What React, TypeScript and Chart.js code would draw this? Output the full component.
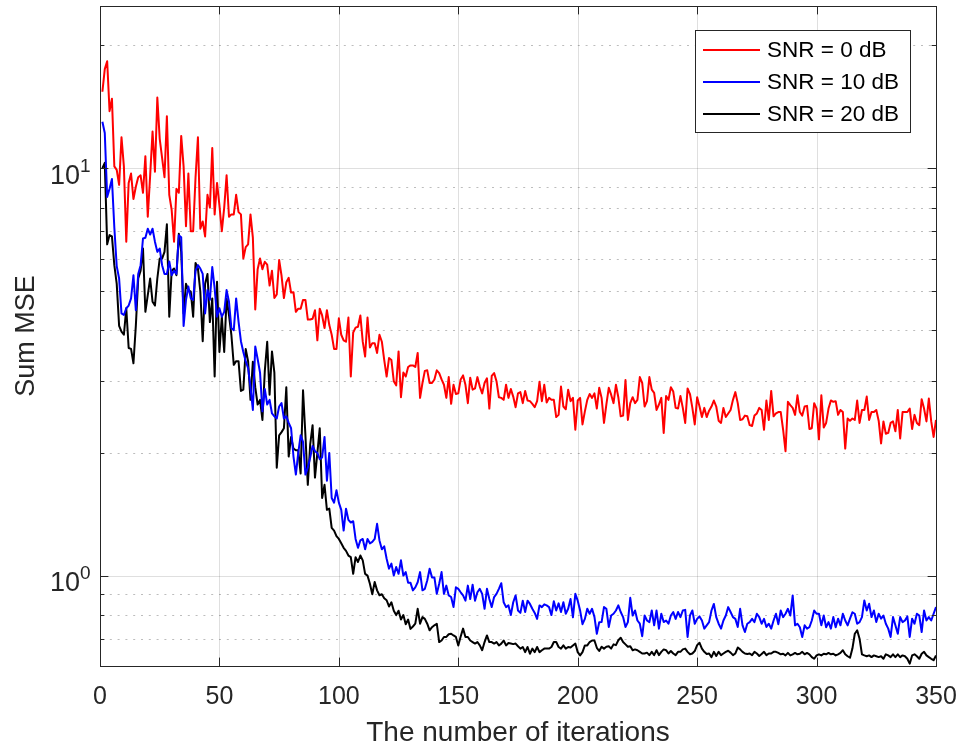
import React, { useEffect, useRef } from 'react';
import { Chart, registerables } from 'chart.js';

Chart.register(...registerables);

// ---------------- data ----------------
const ITER_START = 1;

const SNR0 = [
  15.4, 17.5, 18.3, 13.8, 14.8, 10.1, 9.9, 9.1, 11.9, 10.1,
  6.6, 9.2, 9.7, 8.4, 9.0, 9.5, 9.6, 8.7, 10.7, 7.6,
  9.6, 12.3, 9.8, 14.9, 11.8, 10.6, 9.5, 13.4, 8.6, 7.9,
  6.6, 8.9, 8.7, 12.0, 10.1, 7.2, 9.7, 7.0, 7.0, 9.5,
  11.9, 7.1, 7.4, 6.8, 8.6, 8.0, 11.2, 7.7, 9.2, 8.1,
  7.0, 8.0, 9.6, 7.6, 7.7, 7.7, 8.6, 7.8, 7.7, 6.0,
  6.4, 6.5, 7.7,
  6.75, 4.5, 5.65, 6.0, 5.65, 5.89, 5.8,
  5.15, 5.6, 4.8, 4.9, 5.95, 5.45, 4.8, 5.25, 5.38, 4.95,
  4.96, 4.44, 4.52, 4.52, 4.75, 4.75, 4.25, 4.25, 4.27, 4.48,
  3.78, 4.52, 4.35, 4.05, 4.48, 4.12, 3.9, 3.6, 3.6, 4.28,
  3.9, 3.78, 3.75, 4.3, 3.08, 3.95, 4.06, 4.08, 4.35, 3.75,
  3.45, 4.3, 3.63, 3.72, 3.72, 3.52, 3.9, 3.75, 3.38, 3.08,
  3.42, 3.38, 3.0, 2.93, 3.55, 2.74, 3.15, 3.08, 3.25, 3.28, 3.28,
  3.25, 3.52, 2.73, 2.97, 3.18, 3.19, 2.97, 2.97, 3.03,
  3.19, 3.14, 3.03, 2.94, 2.73, 3.07, 2.64, 2.94, 2.79, 2.8,
  3.03, 3.1, 2.94, 2.65, 3.06, 2.86, 2.88, 3.07, 2.91, 2.8,
  2.97, 3.05, 2.57, 3.09, 3.14, 3.0, 2.74, 2.73, 2.7, 2.94,
  2.73, 2.87, 2.75, 2.59, 2.8, 2.82, 2.65, 2.84, 2.69, 2.68,
  2.64, 2.59, 2.68, 2.99, 2.68, 2.94, 2.66, 2.73, 2.7, 2.7,
  2.45, 2.48, 2.91, 2.6, 2.56, 2.86, 2.68, 2.73, 2.28, 2.69,
  2.73, 2.35, 2.53, 2.7, 2.79, 2.73, 2.8,
  2.57, 2.89, 2.73,
  2.37, 2.63, 2.89, 2.78, 2.65, 2.94, 2.74, 2.46, 2.47, 3.02,
  2.41, 2.65, 2.74, 2.65, 2.7, 3.07, 2.97, 2.6, 2.68, 3.07,
  2.86, 2.81, 2.55, 2.63, 2.73, 2.24, 2.76, 2.7, 2.9, 2.83,
  2.58, 2.57, 2.76, 2.58, 2.37, 2.88, 2.79, 2.58, 2.35, 2.74,
  2.6, 2.45, 2.58, 2.45, 2.54, 2.6, 2.69, 2.6,
  2.4, 2.37, 2.58, 2.45, 2.5, 2.55, 2.7, 2.82, 2.65, 2.41, 2.42, 2.47,
  2.46, 2.34, 2.33, 2.47, 2.5, 2.58, 2.55, 2.28, 2.69, 2.41,
  2.84, 2.46, 2.5,
  2.52, 2.52, 2.28, 2.02, 2.67, 2.62, 2.58,
  2.48, 2.77, 2.52, 2.47, 2.6, 2.61, 2.29, 2.3, 2.65, 2.57,
  2.16, 2.77, 2.31, 2.37, 2.57, 2.69, 2.67, 2.68, 2.48, 2.55,
  2.52, 2.05, 2.43, 2.4, 2.43, 2.41, 2.69, 2.37, 2.55, 2.55,
  2.75, 2.41, 2.52, 2.52, 2.55, 2.4, 2.11, 2.39, 2.23, 2.24,
  2.37, 2.39, 2.26, 2.55, 2.17, 2.52, 2.52, 2.52, 2.57, 2.29,
  2.48, 2.37, 2.34, 2.71, 2.57, 2.39, 2.72, 2.39, 2.19, 2.41,
];

const SNR10 = [
  13.0, 12.2, 8.5, 8.9, 9.4, 7.15, 5.75, 5.36, 4.4, 4.36,
  4.53, 4.6, 4.79, 5.46, 4.48, 5.5, 5.78, 6.72, 6.75, 7.1,
  6.87, 7.1, 6.6, 6.23, 6.35, 5.78, 5.5, 5.5, 5.9, 5.46,
  5.6, 5.5, 6.84, 6.77, 4.1, 4.75, 5.12, 4.79, 4.75, 5.6,
  5.78, 5.67, 5.5, 4.4, 5.02, 4.75, 5.72, 5.07, 4.32, 4.53,
  4.32, 4.44, 5.02, 4.7, 4.05, 4.0, 4.79, 4.2, 3.76, 3.54,
  3.36, 3.23, 2.9, 2.55,
  3.65, 3.4, 3.15, 2.53, 2.87, 2.63,
  2.7, 2.5, 2.46, 2.43, 2.6, 2.65, 2.43, 2.46, 2.37, 2.3,
  1.96, 1.77, 2.0, 2.21, 2.13, 1.77, 1.84, 1.95, 2.08, 2.02,
  2.0, 1.93, 1.95, 2.19, 1.71, 2.0, 1.55, 1.51, 1.62, 1.51,
  1.45, 1.29, 1.46, 1.37, 1.35, 1.36, 1.23, 1.17, 1.22, 1.23,
  1.16, 1.23, 1.2, 1.21, 1.23, 1.34, 1.22, 1.16, 1.18, 1.1,
  1.04, 1.07, 1.0, 1.05, 1.01, 1.09, 1.0, 1.02, 0.96, 0.96, 0.92,
  0.936, 0.963, 1.02, 0.92, 0.928, 0.973, 1.04, 0.99, 0.99,
  0.902, 0.955, 1.02, 0.902, 0.945, 0.894, 0.886, 0.837, 0.936, 0.928,
  0.91, 0.894, 0.868, 0.945, 0.876, 0.95, 0.868, 0.91, 0.928, 0.902,
  0.829, 0.928, 0.876, 0.837, 0.886, 0.902, 0.928, 0.958, 0.86, 0.837,
  0.845, 0.8, 0.86, 0.894, 0.821, 0.81, 0.868, 0.814, 0.868, 0.852,
  0.829, 0.81, 0.783, 0.845, 0.837, 0.85, 0.845, 0.837, 0.8, 0.865,
  0.821, 0.855, 0.814, 0.86, 0.806, 0.829, 0.876, 0.79, 0.902, 0.868,
  0.821, 0.76, 0.783, 0.829, 0.806, 0.829, 0.792, 0.72, 0.768,
  0.769, 0.837, 0.829, 0.748, 0.798, 0.806, 0.821, 0.845, 0.814, 0.791, 0.748,
  0.769, 0.882, 0.798, 0.821, 0.776, 0.762, 0.71, 0.798, 0.776, 0.769,
  0.821, 0.755, 0.821, 0.741, 0.806, 0.769, 0.776, 0.762, 0.798, 0.814,
  0.783, 0.814, 0.791, 0.821, 0.824, 0.707, 0.798, 0.821, 0.762, 0.783,
  0.794, 0.776, 0.741, 0.755, 0.769, 0.821, 0.852, 0.791, 0.762, 0.741,
  0.776, 0.798, 0.837, 0.814, 0.791, 0.783, 0.748, 0.829, 0.755, 0.727,
  0.762, 0.769, 0.783, 0.769, 0.806, 0.791, 0.762, 0.783, 0.748, 0.762,
  0.741, 0.776, 0.806, 0.76, 0.821, 0.791, 0.806, 0.829, 0.798, 0.894,
  0.755, 0.762, 0.747, 0.707, 0.755, 0.741, 0.747, 0.776, 0.821, 0.806,
  0.806, 0.755, 0.798, 0.747, 0.769, 0.741, 0.791, 0.747, 0.784, 0.755,
  0.806, 0.776, 0.755, 0.784, 0.813, 0.806, 0.762, 0.769, 0.791, 0.869,
  0.821, 0.853, 0.791, 0.821, 0.769, 0.806, 0.784, 0.798, 0.762, 0.741,
  0.707, 0.791, 0.755, 0.72, 0.791, 0.769, 0.776, 0.794, 0.707, 0.784,
  0.762, 0.806, 0.798, 0.727, 0.821, 0.776, 0.791, 0.776, 0.806, 0.837,
];

const SNR20 = [
  10.0, 10.3, 6.5, 6.85, 6.8, 5.78, 5.2, 4.1, 3.97, 3.9,
  4.53, 3.62, 3.6, 3.32, 4.1, 5.36, 5.6, 6.35, 4.44, 4.88,
  5.36, 4.7, 4.6, 5.36, 6.0, 6.0, 6.23, 7.28, 4.32, 5.6,
  5.67, 5.46, 6.9, 6.23, 4.4, 5.2, 5.02, 4.98, 4.32, 5.85,
  5.67, 4.98, 3.76, 5.2, 5.5, 4.19, 4.79, 3.08, 5.26, 3.54,
  4.32, 3.54, 4.79, 4.36, 3.9, 3.29, 3.36, 3.36, 2.84, 2.86,
  3.6, 3.36,
  2.7, 3.35, 2.9, 2.63, 2.7, 2.41, 3.18, 3.75,
  2.78, 3.55, 3.15, 1.84, 2.21, 2.25, 2.3, 2.9, 1.96, 2.19,
  2.05, 2.03, 2.03, 1.78, 2.85, 2.21, 1.67, 2.1, 2.34, 1.74,
  2.0, 2.3, 1.55, 1.67, 1.45, 1.46, 1.31, 1.29, 1.25, 1.23,
  1.2, 1.17, 1.15, 1.12, 1.11, 1.01, 1.11, 1.08, 1.12, 1.09,
  1.01, 1.0, 0.955, 0.9, 0.965, 0.92, 0.895, 0.9, 0.88, 0.87,
  0.84, 0.86, 0.82, 0.8, 0.82, 0.78, 0.8, 0.76, 0.78, 0.74, 0.75,
  0.762, 0.829, 0.762, 0.791, 0.783, 0.762, 0.734, 0.747, 0.755,
  0.762, 0.687, 0.693, 0.707, 0.707, 0.718, 0.72, 0.713, 0.707, 0.674,
  0.709, 0.741, 0.707, 0.707, 0.693, 0.687, 0.681, 0.687, 0.674, 0.656,
  0.687, 0.713, 0.687, 0.687, 0.681, 0.687, 0.674, 0.681, 0.693, 0.674,
  0.683, 0.681, 0.679, 0.681, 0.671, 0.662, 0.668, 0.649, 0.668, 0.643,
  0.662, 0.649, 0.668, 0.649, 0.656, 0.662, 0.662, 0.662, 0.668, 0.687,
  0.687, 0.668, 0.662, 0.674, 0.662, 0.668, 0.666, 0.674, 0.681, 0.649,
  0.637, 0.649, 0.674, 0.674, 0.687, 0.693, 0.693,
  0.665, 0.653, 0.669,
  0.662, 0.669, 0.671, 0.662, 0.678, 0.675, 0.694, 0.704, 0.687, 0.678,
  0.669, 0.671, 0.656, 0.659, 0.656, 0.65, 0.644, 0.644, 0.647, 0.638,
  0.65, 0.638, 0.656, 0.638, 0.65, 0.659, 0.656, 0.644, 0.653, 0.644,
  0.638, 0.65, 0.65, 0.659, 0.662, 0.65, 0.641, 0.644, 0.653, 0.675,
  0.684, 0.662, 0.65, 0.642, 0.644, 0.631, 0.65, 0.635, 0.65, 0.638,
  0.644, 0.65, 0.654, 0.647, 0.638, 0.644, 0.666, 0.659, 0.65, 0.644,
  0.642, 0.644, 0.638, 0.65, 0.644, 0.635, 0.642, 0.65, 0.638, 0.644,
  0.644, 0.65, 0.65,
  0.646, 0.641, 0.643, 0.637, 0.646, 0.637, 0.641,
  0.646, 0.641, 0.643, 0.65, 0.641, 0.646, 0.641, 0.631, 0.625, 0.637,
  0.641, 0.637, 0.643, 0.641, 0.646, 0.641, 0.643, 0.637, 0.641, 0.646,
  0.656, 0.641, 0.634, 0.629, 0.662, 0.72, 0.734, 0.7, 0.641, 0.637,
  0.634, 0.637, 0.631, 0.637, 0.634, 0.631, 0.634, 0.625, 0.641, 0.637,
  0.631, 0.641, 0.631, 0.641, 0.631, 0.637, 0.634, 0.625, 0.608, 0.637,
  0.641, 0.634, 0.625, 0.643, 0.65, 0.637, 0.631, 0.625, 0.62, 0.637,
];

const SERIES_LABELS = ['SNR = 0 dB', 'SNR = 10 dB', 'SNR = 20 dB'];
const SERIES_COLORS = ['#ff0000', '#0000ff', '#000000'];
const X_TICKS = [0, 50, 100, 150, 200, 250, 300, 350];
const Y_MAJOR = [1, 10];
const Y_MINOR = [0.7, 0.8, 0.9, 2, 3, 4, 5, 6, 7, 8, 9, 20];
const X_RANGE = [0, 350];
const Y_RANGE = [0.61, 25];
const X_TITLE = 'The number of iterations';
const Y_TITLE = 'Sum MSE';

// ---------------- styling ----------------
const FONT = '"Liberation Sans", Arial, Helvetica, sans-serif';
const AXIS_COLOR = '#262626';

const toPoints = (arr: number[]) => arr.map((y, i) => ({ x: i + ITER_START, y }));

const matlabFrame = {
  id: 'matlabFrame',
  beforeDatasetsDraw(chart: any) {
    const { ctx, chartArea: a, scales } = chart;
    const xs = scales.x;
    const ys = scales.y;
    ctx.save();
    ctx.lineWidth = 1;
    ctx.strokeStyle = 'rgba(38,38,38,0.15)';
    ctx.setLineDash([]);
    ctx.beginPath();
    for (const v of X_TICKS) {
      if (v <= X_RANGE[0] || v >= X_RANGE[1]) continue;
      const px = Math.round(xs.getPixelForValue(v)) + 0.5;
      ctx.moveTo(px, a.top);
      ctx.lineTo(px, a.bottom);
    }
    for (const v of Y_MAJOR) {
      const py = Math.round(ys.getPixelForValue(v)) + 0.5;
      ctx.moveTo(a.left, py);
      ctx.lineTo(a.right, py);
    }
    ctx.stroke();
    ctx.strokeStyle = 'rgba(38,38,38,0.3)';
    ctx.setLineDash([2, 5.8]);
    ctx.beginPath();
    for (const v of Y_MINOR) {
      const py = Math.round(ys.getPixelForValue(v)) + 0.5;
      ctx.moveTo(a.left + 2, py);
      ctx.lineTo(a.right, py);
    }
    ctx.stroke();
    ctx.restore();
  },
  afterDatasetsDraw(chart: any) {
    const { ctx, chartArea: a, scales } = chart;
    const xs = scales.x;
    const ys = scales.y;
    ctx.save();
    ctx.setLineDash([]);
    ctx.strokeStyle = AXIS_COLOR;
    ctx.lineWidth = 1;
    // box
    ctx.strokeRect(Math.round(a.left) + 0.5, Math.round(a.top) + 0.5, Math.round(a.right - a.left), Math.round(a.bottom - a.top));
    // ticks (inward, on all four sides)
    const major = 8.4;
    const minor = 4.4;
    ctx.beginPath();
    for (const v of X_TICKS) {
      const px = Math.round(xs.getPixelForValue(v)) + 0.5;
      ctx.moveTo(px, a.bottom);
      ctx.lineTo(px, a.bottom - major);
      ctx.moveTo(px, a.top);
      ctx.lineTo(px, a.top + major);
    }
    for (const v of Y_MAJOR) {
      const py = Math.round(ys.getPixelForValue(v)) + 0.5;
      ctx.moveTo(a.left, py);
      ctx.lineTo(a.left + major, py);
      ctx.moveTo(a.right, py);
      ctx.lineTo(a.right - major, py);
    }
    for (const v of Y_MINOR) {
      const py = Math.round(ys.getPixelForValue(v)) + 0.5;
      ctx.moveTo(a.left, py);
      ctx.lineTo(a.left + minor, py);
      ctx.moveTo(a.right, py);
      ctx.lineTo(a.right - minor, py);
    }
    ctx.stroke();

    // y tick labels 10^n
    ctx.fillStyle = AXIS_COLOR;
    ctx.textAlign = 'left';
    ctx.textBaseline = 'alphabetic';
    for (const v of Y_MAJOR) {
      const py = ys.getPixelForValue(v);
      const exp = String(Math.round(Math.log10(v)));
      ctx.font = `27px ${FONT}`;
      const wBase = ctx.measureText('10').width;
      ctx.font = `19px ${FONT}`;
      const wExp = ctx.measureText(exp).width;
      const x0 = 90.5 - wBase - wExp;
      ctx.font = `27px ${FONT}`;
      ctx.fillText('10', x0, py + 15.5);
      ctx.font = `19px ${FONT}`;
      ctx.fillText(exp, x0 + wBase, py + 3.4);
    }

    // y title
    ctx.save();
    ctx.translate(27, (a.top + a.bottom) / 2);
    ctx.rotate(-Math.PI / 2);
    ctx.textAlign = 'center';
    ctx.textBaseline = 'middle';
    ctx.font = `27px ${FONT}`;
    ctx.fillText(Y_TITLE, 0, 0);
    ctx.restore();

    // legend
    const lx = 695.5, ly = 30.5, lw = 215, lh = 102;
    ctx.fillStyle = '#ffffff';
    ctx.fillRect(lx, ly, lw, lh);
    ctx.strokeStyle = AXIS_COLOR;
    ctx.lineWidth = 1;
    ctx.strokeRect(lx, ly, lw, lh);
    ctx.font = `22.5px ${FONT}`;
    ctx.textAlign = 'left';
    ctx.textBaseline = 'middle';
    SERIES_LABELS.forEach((label, i) => {
      const cy = 50 + i * 32;
      ctx.strokeStyle = SERIES_COLORS[i];
      ctx.lineWidth = 2;
      ctx.beginPath();
      ctx.moveTo(703, cy);
      ctx.lineTo(760, cy);
      ctx.stroke();
      ctx.fillStyle = '#000000';
      ctx.fillText(label, 767, cy + 1);
    });
    ctx.restore();
  },
};

export default function App() {
  const canvasRef = useRef<HTMLCanvasElement | null>(null);

  useEffect(() => {
    const canvas = canvasRef.current;
    if (!canvas) return;
    const series = [SNR0, SNR10, SNR20];
    const chart = new Chart(canvas, {
      type: 'line',
      data: {
        datasets: series.map((s, i) => ({
          label: SERIES_LABELS[i],
          data: toPoints(s),
          borderColor: SERIES_COLORS[i],
          backgroundColor: SERIES_COLORS[i],
          borderWidth: 2,
          pointRadius: 0,
          fill: false,
          tension: 0,
          borderJoinStyle: 'round' as const,
          clip: 0,
        })),
      },
      options: {
        animation: false,
        responsive: false,
        events: [],
        layout: { padding: { top: 6, right: 23, left: 0, bottom: 0 } },
        plugins: {
          legend: { display: false },
          tooltip: { enabled: false },
        },
        scales: {
          x: {
            type: 'linear',
            min: X_RANGE[0],
            max: X_RANGE[1],
            afterBuildTicks: (s: any) => {
              s.ticks = X_TICKS.map((v) => ({ value: v }));
            },
            afterFit: (s: any) => {
              s.height = 78;
              s.paddingLeft = 0;
              s.paddingRight = 0;
            },
            grid: { display: false, drawTicks: false },
            border: { display: false },
            ticks: {
              color: AXIS_COLOR,
              font: { size: 25, family: FONT },
              padding: 16,
              maxRotation: 0,
              autoSkip: false,
            },
            title: {
              display: true,
              text: X_TITLE,
              color: AXIS_COLOR,
              font: { size: 28, family: FONT, lineHeight: 0.8 },
              padding: { top: 0, bottom: 0 },
            },
          },
          y: {
            type: 'logarithmic',
            min: Y_RANGE[0],
            max: Y_RANGE[1],
            afterFit: (s: any) => {
              s.width = 100;
            },
            grid: { display: false, drawTicks: false },
            border: { display: false },
            ticks: { display: false },
          },
        },
      },
      plugins: [matlabFrame],
    } as any);
    return () => chart.destroy();
  }, []);

  return (
    <div style={{ position: 'absolute', left: 0, top: 0, width: 959, height: 744, background: '#ffffff' }}>
      <canvas ref={canvasRef} width={959} height={744} style={{ display: 'block' }} />
    </div>
  );
}
